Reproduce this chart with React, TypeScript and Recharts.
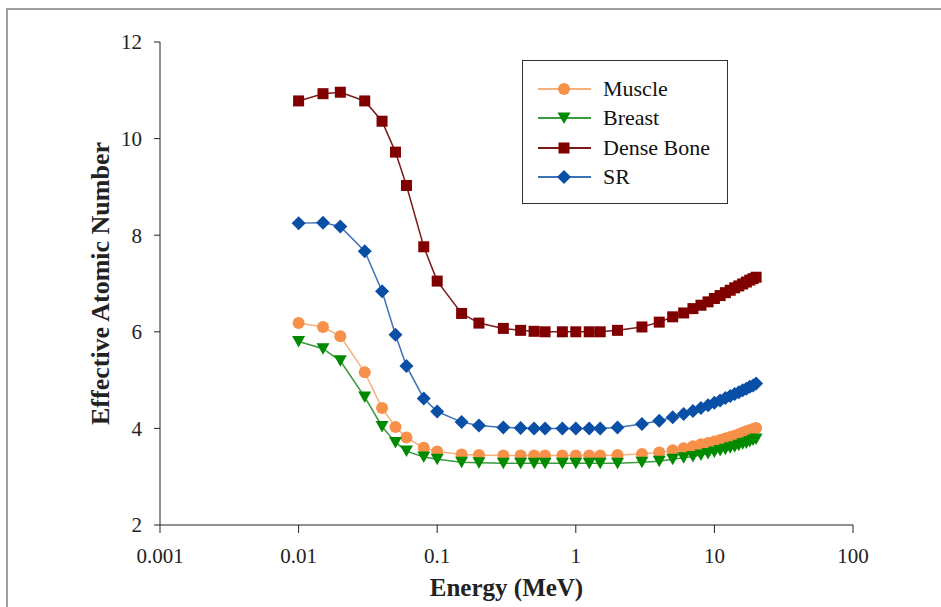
import React from "react";
import { LineChart, Line, XAxis, YAxis, Legend, Label } from "recharts";

// energies (MeV) shared by all four materials
const energy = [
  0.01, 0.015, 0.02, 0.03, 0.04, 0.05, 0.06, 0.08, 0.1, 0.15, 0.2, 0.3, 0.4, 0.5, 0.6, 0.8, 1, 1.25, 1.5, 2, 3, 4,
  5, 6, 7, 8, 9, 10, 11, 12, 13, 14, 15, 16, 17, 18, 19, 20,
];

const muscle = [
  6.18, 6.1, 5.91, 5.16, 4.42, 4.03, 3.81, 3.6, 3.52, 3.46, 3.45, 3.44, 3.44, 3.44, 3.44, 3.44, 3.44, 3.44, 3.44, 3.45,
  3.47, 3.5, 3.55, 3.59, 3.63, 3.67, 3.7, 3.73, 3.76, 3.79, 3.82, 3.85, 3.88, 3.91, 3.94, 3.96, 3.99, 4.01,
];

const breast = [
  5.8, 5.65, 5.4, 4.65, 4.04, 3.71, 3.53, 3.41, 3.36, 3.3, 3.29, 3.28, 3.28, 3.28, 3.28, 3.28, 3.28, 3.28, 3.28, 3.28,
  3.3, 3.32, 3.36, 3.39, 3.42, 3.45, 3.48, 3.51, 3.54, 3.57, 3.6, 3.62, 3.65, 3.68, 3.7, 3.73, 3.76, 3.78,
];

const denseBone = [
  10.78, 10.93, 10.96, 10.78, 10.36, 9.72, 9.03, 7.76, 7.05, 6.38, 6.18, 6.07, 6.03, 6.01, 6.0, 6.0, 6.0, 6.0, 6.0,
  6.03, 6.1, 6.2, 6.31, 6.39, 6.48, 6.55, 6.62, 6.69, 6.75, 6.81, 6.86, 6.91, 6.95, 6.99, 7.03, 7.07, 7.1, 7.13,
];

const sr = [
  8.25, 8.26, 8.18, 7.67, 6.84, 5.94, 5.29, 4.62, 4.35, 4.13, 4.06, 4.02, 4.01, 4.0, 4.0, 4.0, 4.0, 4.0, 4.0, 4.02,
  4.09, 4.16, 4.23, 4.3, 4.36, 4.42, 4.48, 4.53, 4.58, 4.63, 4.67, 4.71, 4.75, 4.79, 4.82, 4.86, 4.89, 4.93,
];

const xTicks = [0.001, 0.01, 0.1, 1, 10, 100];
const yTicks = [2, 4, 6, 8, 10, 12];

const data = energy.map((e, i) => ({
  e,
  muscle: muscle[i],
  breast: breast[i],
  bone: denseBone[i],
  sr: sr[i],
}));

type Shape = "circle" | "triangle" | "square" | "diamond";

const series: { key: string; name: string; line: string; fill: string; shape: Shape }[] = [
  { key: "muscle", name: "Muscle", line: "#f5b07e", fill: "#f7914a", shape: "circle" },
  { key: "breast", name: "Breast", line: "#3c9a3c", fill: "#008a00", shape: "triangle" },
  { key: "bone", name: "Dense Bone", line: "#7a1a1a", fill: "#800000", shape: "square" },
  { key: "sr", name: "SR", line: "#3f72b5", fill: "#0a4fa6", shape: "diamond" },
];

const FONT = "'Liberation Serif', 'Times New Roman', serif";

function Marker({ cx, cy, shape, fill }: { cx: number; cy: number; shape: Shape; fill: string }) {
  if (cx == null || cy == null) return null;
  if (shape === "circle") return <circle cx={cx} cy={cy} r={6} fill={fill} />;
  if (shape === "triangle")
    return <polygon points={`${cx - 6.5},${cy - 5.5} ${cx + 6.5},${cy - 5.5} ${cx},${cy + 6}`} fill={fill} />;
  if (shape === "square") return <rect x={cx - 5.5} y={cy - 5.5} width={11} height={11} fill={fill} />;
  return <polygon points={`${cx},${cy - 7} ${cx + 7},${cy} ${cx},${cy + 7} ${cx - 7},${cy}`} fill={fill} />;
}

function LegendBox() {
  return (
    <div
      style={{
        width: 206,
        height: 144,
        border: "1.5px solid #333",
        background: "#fff",
        boxSizing: "border-box",
        paddingTop: 13,
      }}
    >
      {series.map((s) => (
        <div key={s.key} style={{ display: "flex", alignItems: "center", height: 29.5 }}>
          <svg width={80} height={20} style={{ flex: "none" }}>
            <line x1={15} y1={10} x2={68} y2={10} stroke={s.line} strokeWidth={2} />
            <Marker cx={41} cy={10} shape={s.shape} fill={s.fill} />
          </svg>
          <span style={{ fontFamily: FONT, fontSize: 22, color: "#111", whiteSpace: "nowrap" }}>{s.name}</span>
        </div>
      ))}
    </div>
  );
}

export default function App() {
  return (
    <div style={{ position: "relative", width: 941, height: 607, background: "#fff", overflow: "hidden" }}>
      <style>{"body{margin:0}"}</style>
      <div
        style={{
          position: "absolute",
          left: 6,
          top: 8,
          width: 960,
          height: 700,
          borderTop: "2px solid #a0a0a0",
          borderLeft: "2px solid #a0a0a0",
        }}
      />
      <div style={{ position: "absolute", left: 0, top: 0 }}>
        <LineChart width={941} height={607} data={data} margin={{ top: 42, right: 88, bottom: 0, left: 0 }}>
          <XAxis
            dataKey="e"
            type="number"
            scale="log"
            domain={[0.001, 100]}
            ticks={xTicks}
            allowDataOverflow
            tickFormatter={(v) => String(v)}
            height={82}
            stroke="#222"
            tickSize={8}
            tickMargin={15}
            tick={{ fill: "#222", fontSize: 21, fontFamily: FONT }}
          >
            <Label
              value="Energy (MeV)"
              position="insideBottom"
              offset={11}
              style={{ fill: "#222", fontSize: 25, fontWeight: "bold", fontFamily: FONT }}
            />
          </XAxis>
          <YAxis
            type="number"
            domain={[2, 12]}
            ticks={yTicks}
            width={160}
            stroke="#222"
            tickSize={6}
            tickMargin={12}
            tick={{ fill: "#222", fontSize: 21, fontFamily: FONT }}
          >
            <Label
              value="Effective Atomic Number"
              angle={-90}
              position="insideLeft"
              offset={100}
              style={{
                fill: "#222",
                fontSize: 26,
                fontWeight: "bold",
                fontFamily: FONT,
                textAnchor: "middle",
              }}
            />
          </YAxis>
          <Legend
            layout="vertical"
            align="center"
            verticalAlign="middle"
            wrapperStyle={{ left: 522, top: 60, width: 208 }}
            content={() => <LegendBox />}
          />
          {series.map((s) => (
            <Line
              key={s.key}
              dataKey={s.key}
              name={s.name}
              type="linear"
              stroke={s.line}
              strokeWidth={1.5}
              isAnimationActive={false}
              dot={(p: any) => (
                <Marker key={`${s.key}-${p.index}`} cx={p.cx} cy={p.cy} shape={s.shape} fill={s.fill} />
              )}
              activeDot={false}
            />
          ))}
        </LineChart>
      </div>
    </div>
  );
}
